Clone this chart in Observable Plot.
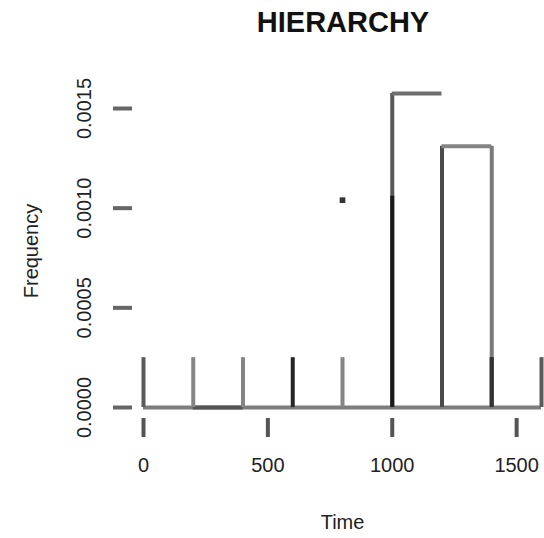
<!DOCTYPE html>
<html>
<head>
<meta charset="utf-8">
<script src="https://cdn.jsdelivr.net/npm/d3@7"></script>
<script src="https://cdn.jsdelivr.net/npm/@observablehq/plot@0.6"></script>
<style>
  html, body { margin: 0; padding: 0; background: #fff; }
  #wrap { width: 544px; height: 538px; overflow: hidden; font-family: "Liberation Sans", Arial, sans-serif; }
  #title { height: 50px; line-height: 44px; margin-left: 142px; width: 402px; text-align: center; font-size: 29px; font-weight: bold; color: #111; }
  svg { display: block; }
</style>
</head>
<body>
<div id="wrap">
  <div id="title">HIERARCHY</div>
</div>
<script>
// ---- data ----
const xTicks = [0, 500, 1000, 1500];
const yTicks = [0, 0.0005, 0.0010, 0.0015];
const yTickLabels = ["0.0000", "0.0005", "0.0010", "0.0015"];

// small spikes (vertical lines from 0)
const spikeTimes = [0, 200, 400, 600, 800, 1400, 1600];
const spikeFreqs = [0.00025, 0.00025, 0.00025, 0.00025, 0.00025, 0.00025, 0.00025];
const spikeGroups = ["mid", "light", "light", "dark", "light", "dark", "mid"];

// tall bars (left edge, right edge, height)
const barStarts = [1000, 1200];
const barEnds = [1200, 1400];
const barFreqs = [0.001575, 0.00131];

// overlapping darker trace and isolated point
const peakTime = [1000];
const peakFreq = [0.00106];
const pointTime = [800];
const pointFreq = [0.00104];

// baseline range and darker baseline section
const baseRange = [0, 1600];
const baseDark = [200, 400];

// ---- build ----
const spikes = spikeTimes.map((t, i) => ({time: t, freq: spikeFreqs[i], group: spikeGroups[i]}));
const bars = barStarts.map((s, i) => ({start: s, end: barEnds[i], freq: barFreqs[i]}));
const bar1 = bars[0], bar2 = bars[1];

const lw = 4;
const txt = "#222";
const chart = Plot.plot({
  width: 544,
  height: 488,
  marginLeft: 143,
  marginRight: 3,
  marginTop: 58,
  marginBottom: 131,
  style: {fontFamily: "Liberation Sans, Arial, sans-serif", background: "#fff", overflow: "visible"},
  x: {domain: [0, 1600], axis: null},
  y: {domain: [0, 0.0015], axis: null},
  color: {domain: ["light", "mid", "dark"], range: ["#858585", "#5a5a5a", "#262626"]},
  marks: [
    // baseline
    Plot.ruleY([0], {x1: baseRange[0], x2: baseRange[1], stroke: "#7c7c7c", strokeWidth: lw}),
    Plot.ruleY([0], {x1: baseDark[0], x2: baseDark[1], stroke: "#555", strokeWidth: lw}),
    // spikes
    Plot.ruleX(spikes, {x: "time", y1: 0, y2: "freq", stroke: "group", strokeWidth: lw}),
    // bar 1: left edge + top
    Plot.ruleX([bar1], {x: "start", y1: 0, y2: "freq", stroke: "#585858", strokeWidth: lw}),
    Plot.ruleY([bar1], {y: "freq", x1: "start", x2: "end", stroke: "#6e6e6e", strokeWidth: lw}),
    // bar 2: left, top, right
    Plot.ruleX([bar2], {x: "start", y1: 0, y2: "freq", stroke: "#4a4a4a", strokeWidth: lw}),
    Plot.ruleY([bar2], {y: "freq", x1: "start", x2: "end", stroke: "#858585", strokeWidth: lw}),
    Plot.ruleX([bar2], {x: "end", y1: 0, y2: "freq", stroke: "#7a7a7a", strokeWidth: lw}),
    // darker overlay and spike at 1400 on top
    Plot.ruleX(peakTime, {x: d => d, y1: 0, y2: (d, i) => peakFreq[i], stroke: "#1a1a1a", strokeWidth: lw}),
    Plot.ruleX(spikes.filter(d => d.time === 1400), {x: "time", y1: 0, y2: "freq", stroke: "#333", strokeWidth: lw}),
    // isolated point
    Plot.dot(pointTime, {x: d => d, y: (d, i) => pointFreq[i], symbol: "square", r: 3.2, fill: "#333", stroke: "none"}),
    // y axis ticks (offset, R style)
    Plot.axisY(yTicks, {tickSize: 19, dx: -11, tickFormat: () => "", label: null, stroke: "#666", strokeWidth: 4}),
    // y tick labels, rotated
    Plot.text(yTicks, {y: d => d, text: (d, i) => yTickLabels[i], frameAnchor: "left", dx: -59, rotate: -90, textAnchor: "middle", lineAnchor: "middle", fontSize: 20, fill: txt}),
    // x axis ticks (offset)
    Plot.axisX(xTicks, {tickSize: 19, dy: 11, tickFormat: () => "", label: null, stroke: "#555", strokeWidth: 4}),
    // x tick labels
    Plot.text(xTicks, {x: d => d, text: d => String(d), frameAnchor: "bottom", dy: 58, textAnchor: "middle", lineAnchor: "middle", fontSize: 20, fill: txt}),
    // axis titles
    Plot.text(["Time"], {frameAnchor: "bottom", dy: 115, text: d => d, lineAnchor: "middle", fontSize: 20, fill: txt}),
    Plot.text(["Frequency"], {frameAnchor: "left", dx: -112, dy: -7, rotate: -90, text: d => d, textAnchor: "middle", lineAnchor: "middle", fontSize: 20, fill: txt})
  ]
});
document.getElementById("wrap").appendChild(chart);
</script>
</body>
</html>
